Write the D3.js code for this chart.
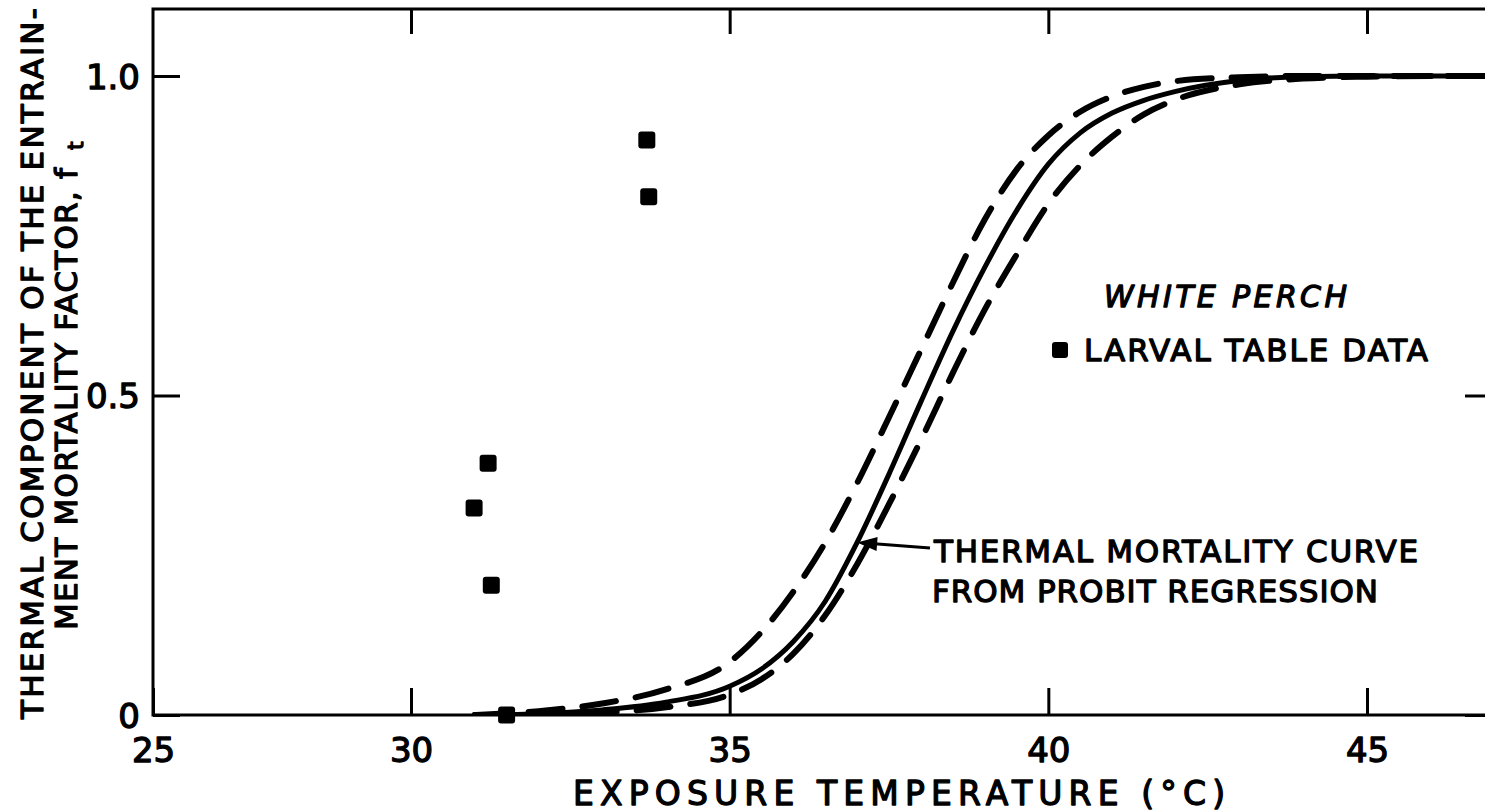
<!DOCTYPE html>
<html>
<head>
<meta charset="utf-8">
<script src="https://cdn.jsdelivr.net/npm/d3@7"></script>
<style>
  html, body { margin: 0; padding: 0; background: #fff; }
  svg { display: block; }
  text { font-family: "DejaVu Sans", sans-serif; fill: #000; stroke: #000; stroke-width: 1.3px; stroke-linejoin: round; }
</style>
</head>
<body>
<svg id="chart" width="1485" height="812"></svg>
<script>
// ---- data ----
const xTickValues = [25, 30, 35, 40, 45];
const xTickLabels = ["25", "30", "35", "40", "45"];
const yTickValues = [0, 0.5, 1.0];
const yTickLabels = ["0", "0.5", "1.0"];

const dataTemp = [31.21, 30.99, 31.26, 31.50, 33.70, 33.73];
const dataMort = [0.394, 0.324, 0.203, 0.000, 0.900, 0.811];

const curveTemp     = [31, 32, 33, 34, 35, 35.5, 36, 36.5, 37, 37.5, 38, 38.5, 39, 39.5, 40, 40.5, 41, 41.5, 42, 43, 44, 45, 46, 47];
const probitMort    = [0.000, 0.002, 0.008, 0.020, 0.045, 0.072, 0.115, 0.178, 0.270, 0.377, 0.490, 0.600, 0.700, 0.789, 0.862, 0.911, 0.942, 0.962, 0.976, 0.993, 0.999, 1.000, 1.000, 1.000];
const leftBandMort  = [0.000, 0.006, 0.018, 0.040, 0.083, 0.130, 0.193, 0.270, 0.363, 0.466, 0.571, 0.676, 0.775, 0.853, 0.907, 0.944, 0.968, 0.983, 0.992, 0.998, 1.000, 1.000, 1.000, 1.000];
const rightBandMort = [0.000, 0.001, 0.004, 0.012, 0.032, 0.056, 0.096, 0.156, 0.236, 0.330, 0.430, 0.535, 0.634, 0.720, 0.800, 0.860, 0.905, 0.940, 0.963, 0.987, 0.996, 0.999, 1.000, 1.000];

const xTitle = "EXPOSURE TEMPERATURE (°C)";
const yTitle1 = "THERMAL COMPONENT OF THE ENTRAIN-";
const yTitle2 = "MENT MORTALITY FACTOR, f";
const yTitleSub = "t";
const speciesLabel = "WHITE PERCH";
const legendLabel = "LARVAL TABLE DATA";
const noteLines = ["THERMAL MORTALITY CURVE", "FROM PROBIT REGRESSION"];

// ---- layout ----
const L = 153, R = 1492, T = 9, B = 715;
const svg = d3.select("#chart");

// the original axis is compressed between 25 and 30
const x = d3.scaleLinear().domain([25, 30, 45]).range([L, 411, 1367]);
const y = d3.scaleLinear().domain([0, 1]).range([B, 76]);

svg.append("defs").append("clipPath").attr("id", "plotclip")
  .append("rect").attr("x", L).attr("y", T).attr("width", R - L).attr("height", B - T);

// frame
svg.append("rect").attr("x", L).attr("y", T).attr("width", R - L).attr("height", B - T)
  .attr("fill", "none").attr("stroke", "#000").attr("stroke-width", 3);

// bottom axis
const gx = svg.append("g").attr("transform", `translate(0,${B})`)
  .call(d3.axisBottom(x).tickValues(xTickValues).tickSizeInner(-27).tickSizeOuter(0).tickPadding(23)
    .tickFormat((d, i) => xTickLabels[i]));
// top axis
const gxt = svg.append("g").attr("transform", `translate(0,${T})`)
  .call(d3.axisTop(x).tickValues(xTickValues.slice(1)).tickSizeInner(-25).tickSizeOuter(0).tickFormat(""));
// left axis
const gy = svg.append("g").attr("transform", `translate(${L},0)`)
  .call(d3.axisLeft(y).tickValues(yTickValues).tickSizeInner(-27).tickSizeOuter(0).tickPadding(13)
    .tickFormat((d, i) => yTickLabels[i]));
// right axis
const gyr = svg.append("g").attr("transform", `translate(${R},0)`)
  .call(d3.axisRight(y).tickValues(yTickValues).tickSizeInner(-27).tickSizeOuter(0).tickFormat(""));

[gx, gxt, gy, gyr].forEach(g => {
  g.select(".domain").remove();
  g.selectAll(".tick line").attr("stroke", "#000").attr("stroke-width", 3);
  g.selectAll(".tick text").attr("font-size", 34).attr("font-family", "DejaVu Sans").attr("fill", "#000");
});
gy.selectAll(".tick text").attr("dy", "0.36em");

// curves
const plot = svg.append("g").attr("clip-path", "url(#plotclip)");
const line = d3.line().x(d => x(d[0])).y(d => y(d[1])).curve(d3.curveMonotoneX);
const series = [
  { vals: leftBandMort,  dash: "34 20", w: 6 },
  { vals: rightBandMort, dash: "34 20", w: 6 },
  { vals: probitMort,    dash: null,    w: 5 }
];
series.forEach(s => {
  plot.append("path")
    .datum(curveTemp.map((t, i) => [t, s.vals[i]]))
    .attr("d", line)
    .attr("fill", "none")
    .attr("stroke", "#000")
    .attr("stroke-width", s.w)
    .attr("stroke-linecap", "round")
    .attr("stroke-dasharray", s.dash);
});

// data points
const sq = 17;
svg.append("g").selectAll("rect")
  .data(dataTemp.map((t, i) => [t, dataMort[i]]))
  .join("rect")
  .attr("x", d => x(d[0]) - sq / 2)
  .attr("y", d => y(d[1]) - sq / 2)
  .attr("width", sq).attr("height", sq)
  .attr("rx", 3).attr("fill", "#000");

// axis titles
svg.append("text")
  .attr("x", 573).attr("y", 805)
  .attr("font-size", 33)
  .attr("textLength", 652).attr("lengthAdjust", "spacing")
  .text(xTitle);

svg.append("text")
  .attr("transform", "translate(43,719) rotate(-90)")
  .attr("font-size", 31)
  .attr("textLength", 711).attr("lengthAdjust", "spacing")
  .text(yTitle1);
svg.append("text")
  .attr("transform", "translate(77,630) rotate(-90)")
  .attr("font-size", 31)
  .attr("textLength", 462).attr("lengthAdjust", "spacing")
  .text(yTitle2);
svg.append("text")
  .attr("transform", "translate(83,150) rotate(-90)")
  .attr("font-size", 22)
  .text(yTitleSub);

// legend
svg.append("text")
  .attr("x", 1104).attr("y", 307)
  .attr("font-size", 30).attr("font-style", "italic")
  .attr("textLength", 243).attr("lengthAdjust", "spacing")
  .text(speciesLabel);
svg.append("rect")
  .attr("x", 1052).attr("y", 342).attr("width", 16).attr("height", 16)
  .attr("rx", 3).attr("fill", "#000");
svg.append("text")
  .attr("x", 1084).attr("y", 361)
  .attr("font-size", 31)
  .attr("textLength", 344).attr("lengthAdjust", "spacing")
  .text(legendLabel);

// annotation
svg.append("text")
  .attr("x", 934).attr("y", 562)
  .attr("font-size", 31)
  .attr("textLength", 484).attr("lengthAdjust", "spacing")
  .text(noteLines[0]);
svg.append("text")
  .attr("x", 932).attr("y", 602)
  .attr("font-size", 31)
  .attr("textLength", 446).attr("lengthAdjust", "spacing")
  .text(noteLines[1]);

// arrow pointing at the probit curve
const tipX = x(37.0), tipY = y(0.27);
const tailX = 930, tailY = 548;
const ang = Math.atan2(tipY - tailY, tipX - tailX);
svg.append("line")
  .attr("x1", tailX).attr("y1", tailY)
  .attr("x2", tipX - 14 * Math.cos(ang)).attr("y2", tipY - 14 * Math.sin(ang))
  .attr("stroke", "#000").attr("stroke-width", 3);
const ah = 20, aw = 7;
const p1 = [tipX, tipY];
const p2 = [tipX - ah * Math.cos(ang) + aw * Math.sin(ang), tipY - ah * Math.sin(ang) - aw * Math.cos(ang)];
const p3 = [tipX - ah * Math.cos(ang) - aw * Math.sin(ang), tipY - ah * Math.sin(ang) + aw * Math.cos(ang)];
svg.append("path")
  .attr("d", `M${p1}L${p2}L${p3}Z`)
  .attr("fill", "#000");
</script>
</body>
</html>
